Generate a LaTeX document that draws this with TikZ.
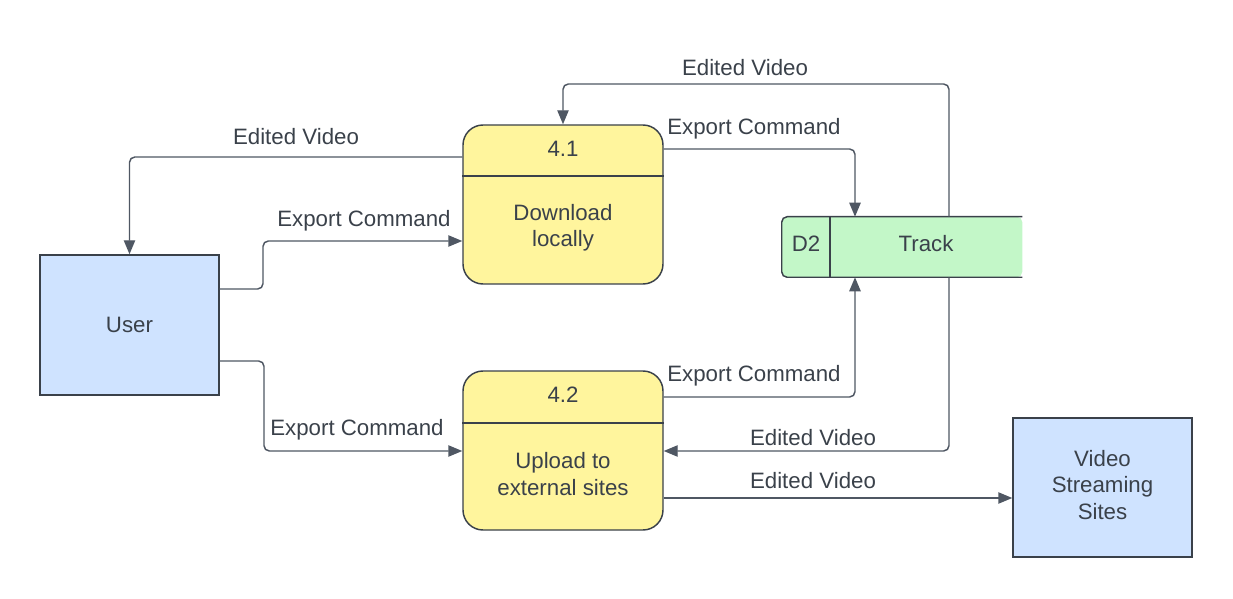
\documentclass[tikz,border=0pt]{standalone}
\usepackage{fontspec}
\setmainfont{Liberation Sans}
\usetikzlibrary{arrows.meta}
\definecolor{ink}{HTML}{3A414A}
\definecolor{wire}{HTML}{4F5763}
\definecolor{bluefill}{HTML}{CFE3FF}
\definecolor{yellowfill}{HTML}{FFF59D}
\definecolor{greenfill}{HTML}{C3F7C8}
\tikzset{
  every node/.style={font=\fontsize{16.7}{19.6}\selectfont, text=ink},
  entity/.style={draw=ink, line width=1.1pt, fill=bluefill, minimum width=134.25pt, minimum height=105pt, align=center, inner sep=0pt},
  process/.style={draw=ink, line width=1.1pt, fill=yellowfill, rounded corners=15pt, minimum width=150pt, minimum height=119.25pt, inner sep=0pt},
  conn/.style={draw=wire, line width=1.1pt, rounded corners=4pt, -{Triangle[length=10.5pt,width=8.5pt]}},
  lbl/.style={inner sep=1pt},
}
\begin{document}
\begin{tikzpicture}[x=0.75pt,y=-0.75pt]
\useasboundingbox (0,0) rectangle (1233,599);
% entities
\node[entity] (user) at (129.5,325) {User};
\node[entity, minimum height=104.25pt] (vss) at (1102.5,487.5) {};
\node[align=center] (vsst) at (1102.5,485) {Video\\Streaming\\Sites};
% processes
\node[process] (p41) at (563,204.5) {};
\draw[ink, line width=1.1pt] (p41.west |- 0,176) -- (p41.east |- 0,176);
\node (p41id) at (563,149) {4.1};
\node[align=center] (p41t) at (563,228) {Download\\locally};
\node[process] (p42) at (563,450.5) {};
\draw[ink, line width=1.1pt] (p42.west |- 0,423) -- (p42.east |- 0,423);
\node (p42id) at (563,395) {4.2};
\node[align=center] (p42t) at (563,474) {Upload to\\external sites};
% data store
\node[minimum width=180pt, minimum height=45pt, inner sep=0pt] (ds) at (902,247) {};
\path[fill=greenfill, rounded corners=4pt] (ds.north east) -- (ds.north west) -- (ds.south west) -- (ds.south east) -- cycle;
\draw[ink, line width=1.1pt, rounded corners=4pt] (ds.north east) -- (ds.north west) -- (ds.south west) -- (ds.south east);
\draw[ink, line width=1.1pt] (ds.north -| 830,0) -- (ds.south -| 830,0);
\node (dsid) at (806,244) {D2};
\node (dsname) at (926,244) {Track};
% connectors
\draw[conn] (p41.west |- 0,157) -| (user.north);
\node[lbl] (l1) at (296,137) {Edited Video};
\draw[conn] (user.east |- 0,289) -- (263,289) -- (263,241) -- (p41.west |- 0,241);
\node[lbl] (l2) at (364,221) {Export Command};
\draw[conn] (user.east |- 0,361) -- (264,361) -- (264,451) -- (p42.west |- 0,451);
\node[lbl] (l3) at (357,430) {Export Command};
\draw[conn] (p41.east |- 0,149) -| (ds.north -| 855,0);
\node[lbl] (l4) at (754,129) {Export Command};
\draw[conn] (ds.north -| 949,0) -- (949,84) -- (563,84) -- (p41.north);
\node[lbl] (l5) at (745,68) {Edited Video};
\draw[conn] (p42.east |- 0,397) -| (ds.south -| 855,0);
\node[lbl] (l6) at (754,376) {Export Command};
\draw[conn] (ds.south -| 949,0) |- (p42.east |- 0,451);
\node[lbl] (l7) at (813,438) {Edited Video};
\draw[conn] (p42.east |- 0,498) -- (vss.west |- 0,498);
\node[lbl] (l8) at (813,481) {Edited Video};
\end{tikzpicture}
\end{document}
